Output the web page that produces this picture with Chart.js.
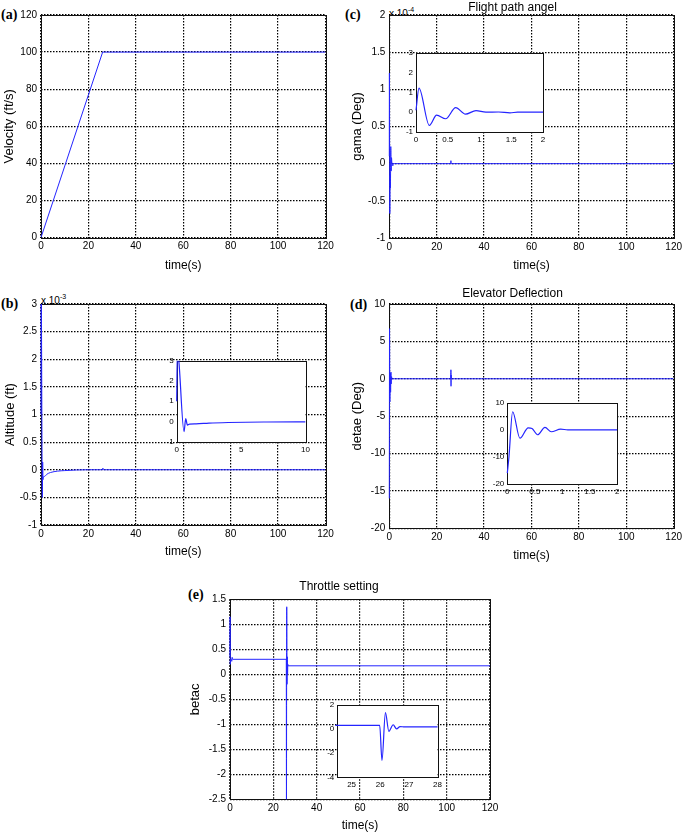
<!DOCTYPE html>
<html lang="en">
<head>
<meta charset="UTF-8">
<title>Flight response</title>
<script src="https://cdn.jsdelivr.net/npm/chart.js"></script>
<style>
  body { margin: 0; background: #fff; }
  #fig { position: relative; width: 685px; height: 833px; overflow: hidden; font-family: Arial, "Liberation Sans", sans-serif; }
  #fig canvas { position: absolute; }
  .tag { position: absolute; font: bold 14px "Liberation Serif", "Times New Roman", serif; line-height: 14px; }
  .mul { position: absolute; font-size: 10px; line-height: 10px; white-space: nowrap; }
  .mul sup { font-size: 7px; vertical-align: 5px; }
  .mul.s { font-size: 8px; line-height: 8px; }
  .mul.s sup { font-size: 6px; vertical-align: 4px; }
</style>
</head>
<body>
<div id="fig">
  <div class="tag" style="left:1px;top:8px">(a)</div>
  <div class="tag" style="left:345px;top:8px">(c)</div>
  <div class="tag" style="left:1px;top:297px">(b)</div>
  <div class="tag" style="left:350px;top:298px">(d)</div>
  <div class="tag" style="left:188px;top:588px">(e)</div>
  <div class="mul" style="left:389px;top:5px">x 10<sup>-4</sup></div>
  <div class="mul" style="left:41px;top:292px">x 10<sup>-3</sup></div>
  <div class="mul s" style="left:416px;top:38px">x 10<sup>-4</sup></div>
  <div class="mul s" style="left:177px;top:348px">x 10<sup>-3</sup></div>
</div>

<script>
// ---- data ----
// (a) velocity, ft/s
const velT = [0, 26, 120];
const velV = [0, 100, 100];

// (b) altitude, units of 1e-3 ft
const altT = [0, 0.05, 0.15, 0.57, 0.7, 0.83, 1.0, 1.5, 2.5, 4, 7, 10, 15, 20, 25.9, 26.1, 26.3, 120];
const altV = [1.0, 3.4, 3.1, -0.5, 0.14, -0.18, -0.13, -0.12, -0.08, -0.05, -0.025, -0.015, -0.004, 0, 0, 0.03, 0, 0];

// (c) flight path angle, units of 1e-4 deg
const gamT = [0, 0.047, 0.21, 0.325, 0.467, 0.625, 0.78, 0.945, 1.1, 1.3, 1.48, 1.6, 2, 25.9, 26, 26.1, 120];
const gamV = [0.1, 1.22, -0.67, -0.15, -0.33, 0.23, -0.1, 0.08, 0, 0.01, -0.03, 0, 0, 0, 0.04, 0, 0];

// (d) elevator deflection, deg
const eleT = [0, 0.03, 0.097, 0.23, 0.38, 0.45, 0.55, 0.685, 0.8, 0.97, 1.1, 2, 25.95, 26.0, 26.05, 26.1, 26.2, 120];
const eleV = [-16, -10, 6.7, -3.1, 0.76, 0.5, -1.8, 0.9, -0.7, 0.28, 0, 0, 0, 1.2, -1.0, 0.5, 0, 0];

// (e) throttle setting
const thrT = [0, 0.04, 0.12, 0.25, 0.6, 0.8, 1.0, 1.2, 25.98, 26.06, 26.18, 26.3, 26.45, 26.57, 26.69, 26.85, 120];
const thrV = [0.35, 1.15, 0.2, 0.3, 0.3, 0.26, 0.34, 0.3, 0.3, -2.6, 1.35, -0.2, 0.35, 0.0, 0.2, 0.17, 0.17];

// tick labels
const timeTicks = [0, 20, 40, 60, 80, 100, 120];
const velTicks = [0, 20, 40, 60, 80, 100, 120];
const altTicks = [-1, -0.5, 0, 0.5, 1, 1.5, 2, 2.5, 3];
const gamTicks = [-1, -0.5, 0, 0.5, 1, 1.5, 2];
const eleTicks = [-20, -15, -10, -5, 0, 5, 10];
const thrTicks = [-2.5, -2, -1.5, -1, -0.5, 0, 0.5, 1, 1.5];
const zoomTicks2 = [0, 0.5, 1, 1.5, 2];
const zoomTicks10 = [0, 5, 10];
const zoomTicksThr = [25, 26, 27, 28];
const insetY4 = [-1, 0, 1, 2, 3];
const insetEle = [-20, -10, 0, 10];
const insetThr = [-4, -2, 0, 2];

const FONT = 'Arial, "Liberation Sans", sans-serif';
const BLUE = '#2424ff';

function pts(t, v) {
  return t.map((x, i) => ({ x: x, y: v[i] }));
}

// white plot background + box around the axes (like MATLAB "box on"), drawn under the curve
const boxPlugin = {
  id: 'boxPlugin',
  beforeDraw(chart) {
    const a = chart.chartArea, ctx = chart.ctx;
    ctx.save();
    ctx.fillStyle = '#fff';
    ctx.fillRect(a.left, a.top, a.right - a.left, a.bottom - a.top);
    ctx.restore();
  },
  beforeDatasetsDraw(chart) {
    const a = chart.chartArea, ctx = chart.ctx;
    ctx.save();
    ctx.strokeStyle = '#111';
    ctx.lineWidth = 1;
    ctx.strokeRect(Math.round(a.left) + 0.5, Math.round(a.top) + 0.5,
      Math.round(a.right) - Math.round(a.left), Math.round(a.bottom) - Math.round(a.top));
    ctx.restore();
  }
};

function makeChart(p) {
  const fig = document.getElementById('fig');
  const cv = document.createElement('canvas');
  const W = Math.ceil(p.R - p.left + p.padR);
  const H = Math.ceil(p.B - p.top + p.xH);
  cv.width = W; cv.height = H;
  cv.style.left = p.left + 'px';
  cv.style.top = p.top + 'px';
  fig.appendChild(cv);

  const padR = W - (p.R - p.left);
  const xH = H - (p.B - p.top);
  const yW = p.L - p.left;
  const inset = !!p.inset;
  const tickSize = inset ? 8 : 10;
  const titleLH = 12 * 1.2;

  new Chart(cv, {
    type: 'line',
    data: {
      datasets: [{
        data: pts(p.t, p.v),
        borderColor: BLUE,
        borderWidth: inset ? 1.2 : 1,
        pointRadius: 0,
        cubicInterpolationMode: p.smooth ? 'monotone' : 'default',
        tension: 0,
        clip: { left: 2, top: 0, right: 0, bottom: 0 }
      }]
    },
    options: {
      responsive: false,
      animation: false,
      devicePixelRatio: 1,
      layout: { padding: { top: p.title ? 0 : p.T - p.top, right: padR, left: 0, bottom: 0 } },
      plugins: {
        legend: { display: false },
        tooltip: { enabled: false },
        title: {
          display: !!p.title,
          text: p.title || '',
          color: '#000',
          font: { family: FONT, size: 12, weight: 'normal' },
          padding: { top: 0, bottom: p.title ? p.T - p.top - titleLH : 0 }
        }
      },
      scales: {
        x: {
          type: 'linear',
          min: p.xMin, max: p.xMax,
          afterBuildTicks: ax => { ax.ticks = p.xTicks.map(v => ({ value: v })); },
          afterFit: s => { s.height = xH; },
          ticks: { color: '#000', font: { family: FONT, size: tickSize }, padding: 3, maxRotation: 0, autoSkip: false, callback: v => String(v) },
          grid: { display: !inset, color: '#000', lineWidth: 1.2, drawTicks: false },
          border: { display: false, dash: [1.5, 1.5] },
          title: { display: !!p.xTitle, text: p.xTitle || '', color: '#000', font: { family: FONT, size: 12 }, padding: 0 }
        },
        y: {
          min: p.yMin, max: p.yMax,
          afterBuildTicks: ax => { ax.ticks = p.yTicks.map(v => ({ value: v })); },
          afterFit: s => { s.width = yW; },
          ticks: { color: '#000', font: { family: FONT, size: tickSize }, padding: inset ? 3 : 4, autoSkip: false, callback: v => String(v) },
          grid: { display: !inset, color: '#000', lineWidth: 1.2, drawTicks: false },
          border: { display: false, dash: [1.5, 1.5] },
          title: { display: !!p.yTitle, text: p.yTitle || '', color: '#000', font: { family: FONT, size: 13 }, padding: 0 }
        }
      }
    },
    plugins: [boxPlugin]
  });
}

function makeInset(p) {
  p.inset = true;
  p.smooth = true;
  p.left = Math.round(p.L - 22);
  p.top = Math.round(p.T - 7);
  p.padR = 7;
  p.xH = 13;
  makeChart(p);
}

// (a)
makeChart({ L: 41, T: 15, R: 325.5, B: 237.5, left: 2, top: 3, padR: 12, xH: 34.7,
  t: velT, v: velV, xMin: 0, xMax: 120, yMin: 0, yMax: 120, xTicks: timeTicks, yTicks: velTicks,
  xTitle: 'time(s)', yTitle: 'Velocity (ft/s)' });

// (b)
makeChart({ L: 41, T: 304, R: 325.5, B: 525, left: 3, top: 292, padR: 12, xH: 34,
  t: altT, v: altV, smooth: true, xMin: 0, xMax: 120, yMin: -1, yMax: 3, xTicks: timeTicks, yTicks: altTicks,
  xTitle: 'time(s)', yTitle: 'Altitude (ft)' });
makeInset({ L: 176.7, T: 360, R: 305.7, B: 441.7, t: altT, v: altV,
  xMin: 0, xMax: 10, yMin: -1, yMax: 3, xTicks: zoomTicks10, yTicks: insetY4 });

// (c)
makeChart({ L: 389.3, T: 15, R: 675, B: 238, left: 350, top: 0, padR: 10, xH: 34.2,
  title: 'Flight path angel',
  t: gamT, v: gamV, smooth: true, xMin: 0, xMax: 120, yMin: -1, yMax: 2, xTicks: timeTicks, yTicks: gamTicks,
  xTitle: 'time(s)', yTitle: 'gama (Deg)' });
makeInset({ L: 416, T: 52, R: 543, B: 132, t: gamT, v: gamV,
  xMin: 0, xMax: 2, yMin: -1, yMax: 3, xTicks: zoomTicks2, yTicks: insetY4 });

// (d)
makeChart({ L: 389.3, T: 304, R: 675, B: 528.3, left: 350, top: 286, padR: 10, xH: 34,
  title: 'Elevator Deflection',
  t: eleT, v: eleV, smooth: true, xMin: 0, xMax: 120, yMin: -20, yMax: 10, xTicks: timeTicks, yTicks: eleTicks,
  xTitle: 'time(s)', yTitle: 'detae (Deg)' });
makeInset({ L: 507.3, T: 401.7, R: 617.3, B: 484, t: eleT, v: eleV,
  xMin: 0, xMax: 2, yMin: -20, yMax: 10, xTicks: zoomTicks2, yTicks: insetEle });

// (e)
makeChart({ L: 230, T: 599.3, R: 490, B: 799.3, left: 188, top: 579, padR: 12, xH: 32.9,
  title: 'Throttle setting',
  t: thrT, v: thrV, smooth: true, xMin: 0, xMax: 120, yMin: -2.5, yMax: 1.5, xTicks: timeTicks, yTicks: thrTicks,
  xTitle: 'time(s)', yTitle: 'betac' });
makeInset({ L: 337.3, T: 704, R: 437.7, B: 777.3, t: thrT, v: thrV,
  xMin: 24.5, xMax: 28, xTicks: zoomTicksThr, yMin: -4, yMax: 2, yTicks: insetThr });
</script>
</body>
</html>
